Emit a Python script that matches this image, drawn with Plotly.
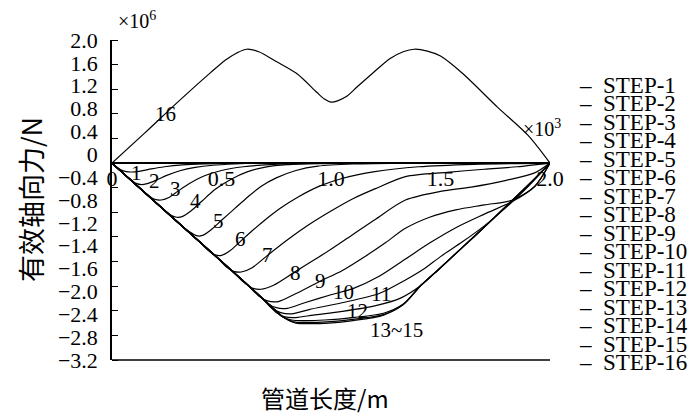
import plotly.graph_objects as go

# ---------------- data (x in 10^3 m, force in 10^6 N) ----------------
x_tick_vals = [0, 0.5, 1.0, 1.5, 2.0]
x_tick_text = ["0", "0.5", "1.0", "1.5", "2.0"]
y_tick_text = ["2.0", "1.6", "1.2", "0.8", "0.4", "0", "−0.4", "−0.8", "−1.2",
               "−1.4", "−1.6", "−2.0", "−2.4", "−2.8", "−3.2"]
y_mark_vals = [2.0, 1.6, 1.2, 0.8, 0.4, 0.0, -0.4, -0.8, -1.2, -1.6, -2.0, -2.4, -2.8, -3.2]

step_names = ["STEP-1", "STEP-2", "STEP-3", "STEP-4", "STEP-5", "STEP-6", "STEP-7", "STEP-8",
              "STEP-9", "STEP-10", "STEP-11", "STEP-12", "STEP-13", "STEP-14", "STEP-15", "STEP-16"]

s1_x = [0, 0.02, 0.04, 0.065, 0.09, 0.13, 0.18, 0.24, 0.32, 0.42, 0.55, 0.8, 2.0]
s1_v = [0, -0.06, -0.11, -0.14, -0.145, -0.13, -0.095, -0.06, -0.03, -0.012, -0.004, 0, 0]

s2_x = [0, 0.04, 0.08, 0.11, 0.135, 0.16, 0.2, 0.25, 0.31, 0.38, 0.46, 0.56, 0.7, 2.0]
s2_v = [0, -0.128, -0.256, -0.33, -0.35, -0.335, -0.28, -0.2, -0.125, -0.07, -0.035, -0.015, 0, 0]

s3_x = [0, 0.07, 0.14, 0.175, 0.2, 0.225, 0.26, 0.3, 0.35, 0.42, 0.5, 0.6, 0.72, 0.9, 2.0]
s3_v = [0, -0.224, -0.448, -0.55, -0.595, -0.6, -0.56, -0.46, -0.34, -0.21, -0.12, -0.06, -0.025, -0.005, 0]

s4_x = [0, 0.12, 0.24, 0.27, 0.295, 0.32, 0.36, 0.41, 0.47, 0.54, 0.62, 0.7, 0.8, 0.95, 1.2, 2.0]
s4_v = [0, -0.384, -0.768, -0.85, -0.88, -0.87, -0.78, -0.62, -0.43, -0.27, -0.14, -0.065, -0.025, -0.008, 0, 0]

s5_x = [0, 0.16, 0.32, 0.355, 0.385, 0.41, 0.45, 0.5, 0.56, 0.62, 0.68, 0.75, 0.84, 0.94, 1.1, 1.35, 2.0]
s5_v = [0, -0.512, -1.024, -1.12, -1.18, -1.18, -1.09, -0.93, -0.74, -0.55, -0.38, -0.24, -0.12, -0.05, -0.015, 0, 0]

s6_x = [0, 0.2, 0.4, 0.44, 0.47, 0.5, 0.54, 0.59, 0.64, 0.7, 0.77, 0.85, 0.95, 1.05, 1.2, 1.4, 1.65, 2.0]
s6_v = [0, -0.64, -1.28, -1.42, -1.49, -1.5, -1.42, -1.26, -1.1, -0.92, -0.73, -0.55, -0.37, -0.25, -0.14, -0.06, -0.02, 0]

s7_x = [0, 0.25, 0.48, 0.52, 0.555, 0.59, 0.64, 0.71, 0.8, 0.9, 1.0, 1.1, 1.2, 1.34, 1.53, 1.7, 1.85, 2.0]
s7_v = [0, -0.8, -1.536, -1.68, -1.76, -1.77, -1.7, -1.5, -1.25, -1.0, -0.78, -0.58, -0.42, -0.22, -0.15, -0.1, -0.06, 0]

s8_x = [0, 0.28, 0.56, 0.6, 0.64, 0.68, 0.74, 0.83, 0.92, 1.0, 1.1, 1.2, 1.34, 1.5, 1.64, 1.8, 1.93, 2.0]
s8_v = [0, -0.896, -1.792, -1.93, -2.03, -2.05, -1.98, -1.78, -1.58, -1.4, -1.16, -0.92, -0.6, -0.46, -0.39, -0.28, -0.16, 0]

s9_x = [0, 0.3, 0.62, 0.67, 0.71, 0.76, 0.84, 0.95, 1.05, 1.15, 1.25, 1.34, 1.45, 1.57, 1.7, 1.83, 1.93, 2.0]
s9_v = [0, -0.96, -1.984, -2.16, -2.24, -2.25, -2.12, -1.92, -1.75, -1.53, -1.29, -1.06, -0.88, -0.76, -0.68, -0.6, -0.38, 0]

s10_x = [0, 0.33, 0.66, 0.71, 0.75, 0.8, 0.88, 1.0, 1.1, 1.22, 1.34, 1.45, 1.57, 1.7, 1.83, 1.93, 2.0]
s10_v = [0, -1.056, -2.112, -2.28, -2.35, -2.36, -2.27, -2.14, -2.04, -1.84, -1.56, -1.3, -1.05, -0.83, -0.62, -0.38, 0]

s11_x = [0, 0.34, 0.68, 0.73, 0.77, 0.82, 0.9, 1.05, 1.22, 1.34, 1.42, 1.5, 1.6, 1.7, 1.8, 1.9, 2.0]
s11_v = [0, -1.088, -2.176, -2.36, -2.43, -2.45, -2.38, -2.27, -2.12, -1.9, -1.73, -1.52, -1.28, -1.02, -0.72, -0.38, 0]

s12_x = [0, 0.35, 0.7, 0.75, 0.79, 0.84, 0.92, 1.05, 1.2, 1.32, 1.41, 1.5, 1.6, 1.7, 1.8, 1.9, 2.0]
s12_v = [0, -1.12, -2.24, -2.43, -2.5, -2.51, -2.47, -2.41, -2.32, -2.19, -1.99, -1.7, -1.37, -1.04, -0.7, -0.36, 0]

s13_x = [0, 0.36, 0.72, 0.77, 0.82, 0.88, 0.97, 1.1, 1.24, 1.33, 1.41, 1.5, 1.6, 1.7, 1.8, 1.9, 2.0]
s13_v = [0, -1.152, -2.304, -2.48, -2.55, -2.56, -2.55, -2.51, -2.44, -2.29, -1.99, -1.7, -1.37, -1.04, -0.7, -0.36, 0]

s14_x = [0, 0.365, 0.73, 0.78, 0.83, 0.89, 0.98, 1.1, 1.24, 1.33, 1.41, 1.5, 1.6, 1.7, 1.8, 1.9, 2.0]
s14_v = [0, -1.168, -2.336, -2.5, -2.58, -2.59, -2.58, -2.54, -2.46, -2.3, -1.99, -1.7, -1.37, -1.04, -0.7, -0.36, 0]

s15_x = [0, 0.37, 0.74, 0.79, 0.84, 0.9, 0.99, 1.1, 1.24, 1.33, 1.41, 1.5, 1.6, 1.7, 1.8, 1.9, 2.0]
s15_v = [0, -1.184, -2.368, -2.52, -2.6, -2.61, -2.6, -2.56, -2.47, -2.3, -1.99, -1.7, -1.37, -1.04, -0.7, -0.36, 0]

s16_x = [0, 0.15, 0.3, 0.45, 0.52, 0.57, 0.615, 0.67, 0.75, 0.845, 0.935, 0.97, 1.0, 1.03, 1.07, 1.12,
         1.19, 1.27, 1.33, 1.38, 1.44, 1.5, 1.6, 1.76, 1.9, 2.0]
s16_v = [0, 0.49, 0.99, 1.47, 1.68, 1.79, 1.85, 1.81, 1.65, 1.45, 1.15, 1.04, 0.99, 1.01, 1.08, 1.24,
         1.46, 1.7, 1.81, 1.85, 1.82, 1.74, 1.46, 0.91, 0.45, 0]

steps_x = [s1_x, s2_x, s3_x, s4_x, s5_x, s6_x, s7_x, s8_x, s9_x, s10_x, s11_x, s12_x, s13_x, s14_x, s15_x, s16_x]
steps_v = [s1_v, s2_v, s3_v, s4_v, s5_v, s6_v, s7_v, s8_v, s9_v, s10_v, s11_v, s12_v, s13_v, s14_v, s15_v, s16_v]

# curve labels
lab_text = ["16", "1", "2", "3", "4", "5", "6", "7", "8", "9", "10", "11", "12", "13~15"]
lab_x = [0.245, 0.114, 0.192, 0.292, 0.379, 0.484, 0.589, 0.712, 0.836, 0.954, 1.055, 1.228, 1.119, 1.30]
lab_y = [0.79, -0.16, -0.29, -0.42, -0.61, -0.94, -1.23, -1.49, -1.78, -1.91, -2.09, -2.12, -2.41, -2.72]

# ---------------- figure ----------------
SERIF = "Liberation Serif"
CJK = "Noto Sans CJK SC"

# the page body adds an 8 px offset; the figure is sized so the plot area lands
# at x 112..550, y 40..360 of the 700x420 window
OFF = 8
PL, PR, PT, PB = 112, 550, 40, 360
PW, PH = PR - PL, PB - PT


def px_to_paper(px, py):
    return (px - PL) / PW, (PB - py) / PH


fig = go.Figure()
for name, xs, vs in zip(step_names, steps_x, steps_v):
    fig.add_trace(go.Scatter(x=xs, y=vs, mode="lines", name=name,
                             line=dict(color="black", width=1.2, shape="spline", smoothing=0.8),
                             showlegend=False))

ymin, ymax = -3.2, 2.0
n = len(y_tick_text)
label_pos = [ymax - 1e-4 - i * (ymax - ymin - 2e-4) / (n - 1) for i in range(n)]

annotations = []
for t, xv, yv in zip(lab_text, lab_x, lab_y):
    annotations.append(dict(x=xv, y=yv, xref="x", yref="y", text=t, showarrow=False,
                            font=dict(family=SERIF, size=21, color="black")))

# legend (drawn as text, tight line spacing as in the reference)
leg_top, leg_step = 85, 18.5
for i, name in enumerate(step_names):
    ax_, ay_ = px_to_paper(577, leg_top + i * leg_step)
    annotations.append(dict(x=ax_, y=ay_, xref="paper", yref="paper",
                            xanchor="left", yanchor="middle", showarrow=False,
                            text="–\u00a0\u00a0" + name,
                            font=dict(family=SERIF, size=23, color="black")))

def ann(px, py, text, size, family=SERIF, xanchor="left", angle=0):
    ax_, ay_ = px_to_paper(px, py)
    return dict(x=ax_, y=ay_, xref="paper", yref="paper", xanchor=xanchor, yanchor="middle",
                showarrow=False, text=text, textangle=angle,
                font=dict(family=family, size=size, color="black"))

annotations += [
    ann(116, 20, "×10<sup>6</sup>", 20),
    ann(521, 128, "×10<sup>3</sup>", 20),
    ann(325, 397, "管道长度/m", 24, CJK, "center"),
    ann(30, 200, "有效轴向力/N", 27, CJK, "center", -90),
]

fig.update_layout(
    width=700 - OFF, height=420 - OFF,
    margin=dict(l=PL - OFF, r=700 - PR, t=PT - OFF, b=420 - PB),
    paper_bgcolor="white", plot_bgcolor="white",
    font=dict(family=SERIF, size=22, color="black"),
    annotations=annotations,
    shapes=[dict(type="line", xref="x domain", yref="y domain", x0=0, x1=1, y0=0, y1=0,
                 line=dict(color="black", width=1.5))],
    xaxis=dict(range=[0, 2.0], anchor="free", position=(0 - ymin) / (ymax - ymin),
               showline=True, linecolor="black", linewidth=1.5, ticks="",
               tickvals=x_tick_vals, ticktext=x_tick_text, showgrid=False, zeroline=False,
               ticklabelstandoff=-4,
               tickfont=dict(family=SERIF, size=22, color="black")),
    yaxis=dict(range=[ymin, ymax], domain=[0, 1], showline=True, linecolor="black", linewidth=1.5,
               ticks="", tickvals=label_pos, ticktext=y_tick_text, showgrid=False, zeroline=False,
               ticklabelstandoff=8,
               tickfont=dict(family=SERIF, size=22, color="black"),
               minor=dict(tickvals=y_mark_vals, ticks="inside", ticklen=6, tickwidth=1.3,
                          tickcolor="black", showgrid=False)),
)

fig.write_html("out.html")
